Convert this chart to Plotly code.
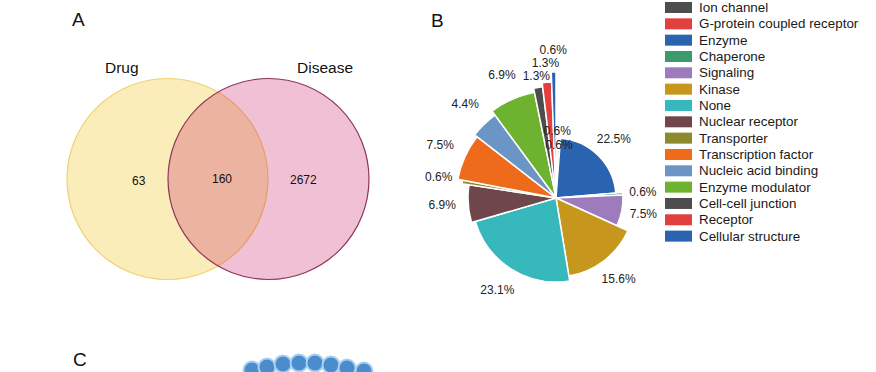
import plotly.graph_objects as go

# ---------------- data ----------------
venn_sets = ["Drug", "Disease"]
venn_counts = [63, 160, 2672]  # drug only, shared, disease only

categories = ["Ion channel", "G-protein coupled receptor", "Enzyme", "Chaperone",
              "Signaling", "Kinase", "None", "Nuclear receptor", "Transporter",
              "Transcription factor", "Nucleic acid binding", "Enzyme modulator",
              "Cell-cell junction", "Receptor", "Cellular structure"]
percent = [0.6, 0.6, 22.5, 0.6, 7.5, 15.6, 23.1, 6.9, 0.6, 7.5, 4.4, 6.9, 1.3, 1.3, 0.6]

network_nodes = ["n1", "n2", "n3", "n4", "n5", "n6", "n7", "n8"]
node_x = [252, 267, 283, 299, 315, 331, 347, 364]
node_y = [370, 367, 364, 363, 363, 365, 368, 371]

# ---------------- styles ----------------
colors = ["#4d4d4d", "#e2403f", "#2a63b0", "#3d9a6a", "#9d7bbd", "#c7961c", "#36b8bc",
          "#6f474a", "#8b8a2c", "#ee6b1c", "#6b95c4", "#6db32f", "#4d4d4d", "#e2403f", "#2a63b0"]
slice_radius = [48, 48, 60, 67, 67, 79, 84, 88, 95, 100, 103, 108, 112, 116, 126]
label_radius = [66, 52, 82, 87, 89, 103, 110, 114, 119, 127, 130, 133, 123, 134, 147]
FONT = "Arial, Liberation Sans, sans-serif"
W, H = 876, 372
OFF = 0  # page body margin removed by post_script

# angles from cumulative percentages
theta_c, width = [], []
cum = 0.0
for p in percent:
    theta_c.append((cum + p / 2) * 3.6)
    width.append(p * 3.6)
    cum += p

fig = go.Figure()

fig.add_trace(go.Barpolar(
    r=slice_radius, theta=theta_c, width=width,
    marker=dict(color=colors, line=dict(color="white", width=1.5)),
    showlegend=False, hoverinfo="skip"))

fig.add_trace(go.Scatterpolar(
    r=label_radius, theta=theta_c, mode="text",
    text=[f"{p:.1f}%" for p in percent],
    textfont=dict(family=FONT, size=12, color="#222"),
    showlegend=False, hoverinfo="skip"))

# network fragment (panel C)
fig.add_trace(go.Scatter(
    x=node_x, y=node_y, mode="markers", xaxis="x", yaxis="y",
    marker=dict(size=17, color="#4a8ccc", line=dict(color="#a9d0f2", width=2)),
    showlegend=False, hoverinfo="skip"))

# Venn geometry
r_v, cy = 100.5, 179
cx_l, cx_r = 167.5, 268.5
shapes = [
    dict(type="circle", xref="x", yref="y", x0=cx_l - r_v, x1=cx_l + r_v, y0=cy - r_v, y1=cy + r_v,
         fillcolor="#faedba", line=dict(color="#f0d070", width=1.2), layer="below"),
    dict(type="circle", xref="x", yref="y", x0=cx_r - r_v, x1=cx_r + r_v, y0=cy - r_v, y1=cy + r_v,
         fillcolor="rgba(196,8,88,0.25)", line=dict(color="#8e3558", width=1.2), layer="below"),
]

annotations = [
    dict(x=78, y=19, text="A", font=dict(size=19, family=FONT, color="#111")),
    dict(x=437, y=20, text="B", font=dict(size=19, family=FONT, color="#111")),
    dict(x=80, y=359, text="C", font=dict(size=19, family=FONT, color="#111")),
    dict(x=122, y=67, text=venn_sets[0], font=dict(size=15.5, family=FONT, color="#111")),
    dict(x=325, y=67, text=venn_sets[1], font=dict(size=15.5, family=FONT, color="#111")),
    dict(x=139, y=181, text=str(venn_counts[0]), font=dict(size=12, family=FONT, color="#111")),
    dict(x=222, y=179, text=str(venn_counts[1]), font=dict(size=12, family=FONT, color="#111")),
    dict(x=303, y=180, text=str(venn_counts[2]), font=dict(size=12, family=FONT, color="#111")),
]
for a in annotations:
    a.update(xref="x", yref="y", showarrow=False)

# manual legend (text placed in paper coordinates so it is never clipped)
for i, (name, col) in enumerate(zip(categories, colors)):
    yc = 7.5 + 16.33 * i
    shapes.append(dict(type="rect", xref="x", yref="y", x0=665, x1=692, y0=yc - 5.5, y1=yc + 5.5,
                       fillcolor=col, line=dict(width=0)))
    annotations.append(dict(xref="paper", yref="paper", x=(697 - OFF) / W, y=1 - (yc - OFF) / H,
                            text=name, xanchor="left", yanchor="middle",
                            showarrow=False, font=dict(size=13.4, family=FONT, color="#1a1a1a")))

R = 150
pcx, pcy = 556 - OFF, 198 - OFF  # pie centre in figure pixels
fig.update_layout(
    width=W, height=H, margin=dict(l=0, r=0, t=0, b=0),
    paper_bgcolor="white", plot_bgcolor="rgba(0,0,0,0)",
    xaxis=dict(range=[OFF, W + OFF], visible=False, domain=[0, 1], fixedrange=True),
    yaxis=dict(range=[H + OFF, OFF], visible=False, domain=[0, 1], fixedrange=True),
    polar=dict(
        domain=dict(x=[(pcx - R) / W, (pcx + R) / W], y=[(H - pcy - R) / H, (H - pcy + R) / H]),
        bgcolor="rgba(0,0,0,0)",
        radialaxis=dict(range=[0, R], visible=False, showgrid=False),
        angularaxis=dict(rotation=90, direction="clockwise", visible=False, showgrid=False),
        bargap=0,
    ),
    shapes=shapes, annotations=annotations, showlegend=False,
)

fig.write_html("out.html", config={"displayModeBar": False},
               post_script="document.body.style.margin='0px';document.body.style.overflow='hidden';")
